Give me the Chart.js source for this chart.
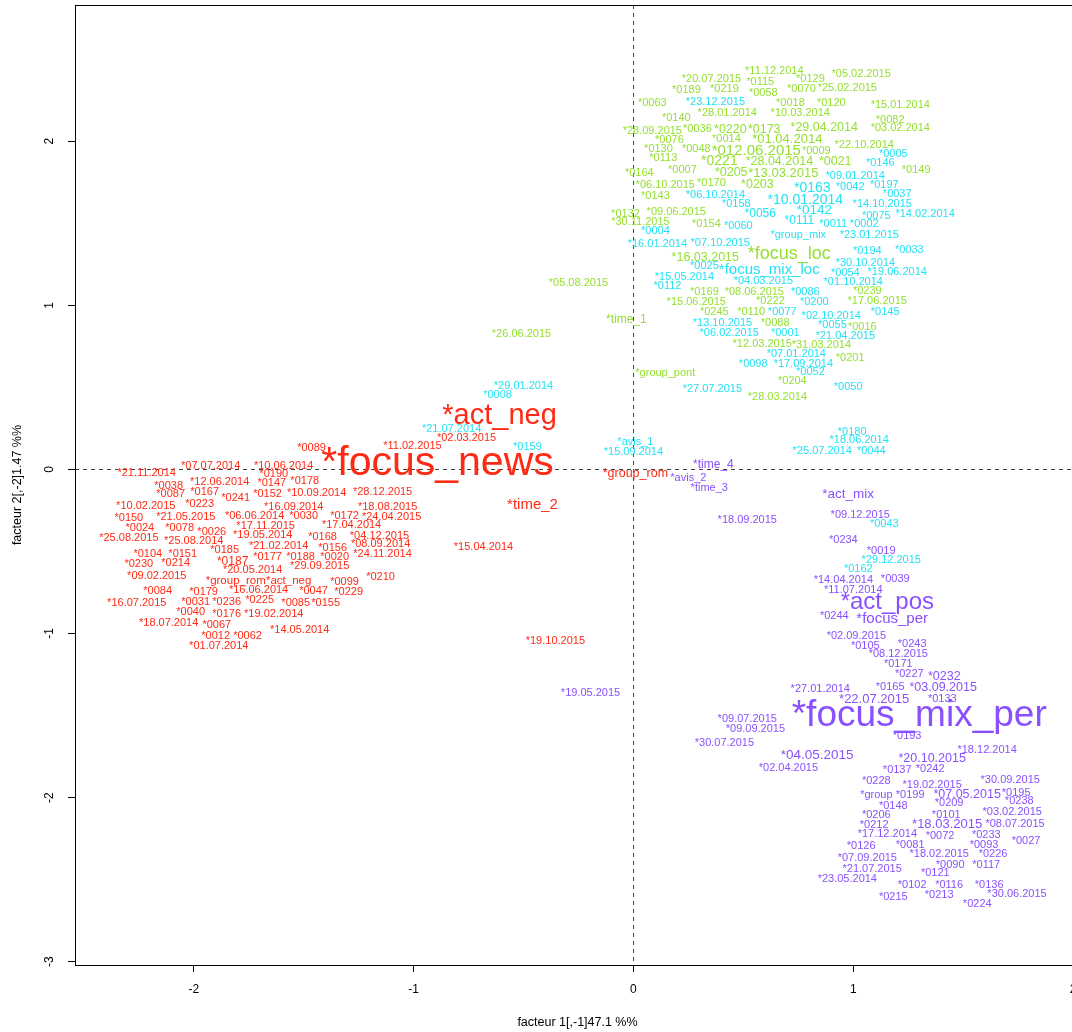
<!DOCTYPE html>
<html>
<head>
<meta charset="utf-8">
<script src="https://cdn.jsdelivr.net/npm/chart.js@4.4.1/dist/chart.umd.min.js"></script>
<style>
  html, body { margin: 0; padding: 0; background: #fff; }
  #wrap { width: 1072px; height: 1032px; position: relative; }
</style>
</head>
<body>
<div id="wrap"><canvas id="chart"></canvas></div>
<script>
// ---- data (factor map coordinates) ----
var locLabels = ['*11.12.2014','*20.07.2015','*0115','*0189','*0219','*0058','*0063','*0140','*28.01.2014','*10.03.2014',
  '*28.09.2015','*0036','*0220','*0173','*29.04.2014','*0076','*0014','*01.04.2014','*0130','*0048',
  '*012.06.2015','*0009','*22.10.2014','*0113','*0221','*28.04.2014','*0021','*0149','*0164','*0007',
  '*0205','*13.03.2015','*06.10.2015','*0170','*0203','*0143','*0132','*09.06.2015','*30.11.2015','*0154',
  '*focus_loc','*16.03.2015','*05.08.2015','*0169','*08.06.2015','*0239','*15.06.2015','*0222','*17.06.2015','*0245',
  '*0110','*time_1','*0088','*0016','*12.03.2015','*31.03.2014','*0201','*group_pont','*0204','*28.03.2014',
  '*26.06.2015','*0082','*03.02.2014','*15.01.2014','*0120','*0018','*0070','*25.02.2015','*0129','*05.02.2015'];
var locX = [0.641,0.355,0.577,0.241,0.414,0.591,0.086,0.195,0.427,0.759,
  0.086,0.291,0.441,0.595,0.868,0.164,0.423,0.700,0.114,0.286,
  0.559,0.832,1.050,0.136,0.391,0.664,0.918,1.286,0.027,0.223,
  0.445,0.682,0.145,0.355,0.564,0.100,-0.036,0.195,0.032,0.332,
  0.709,0.327,-0.250,0.323,0.550,1.064,0.286,0.623,1.109,0.368,
  0.536,-0.032,0.645,1.041,0.586,0.855,0.986,0.145,0.723,0.655,
  -0.509,1.168,1.214,1.214,0.900,0.714,0.764,0.973,0.805,1.036];
var locY = [2.433,2.384,2.366,2.317,2.323,2.299,2.238,2.146,2.177,2.177,
  2.067,2.079,2.079,2.079,2.091,2.012,2.018,2.018,1.957,1.957,
  1.951,1.945,1.982,1.902,1.884,1.884,1.884,1.829,1.811,1.829,
  1.817,1.811,1.738,1.750,1.744,1.671,1.561,1.573,1.512,1.500,
  1.323,1.299,1.140,1.085,1.085,1.091,1.024,1.030,1.030,0.963,
  0.963,0.921,0.896,0.872,0.768,0.762,0.683,0.591,0.543,0.445,
  0.829,2.134,2.085,2.226,2.238,2.238,2.323,2.329,2.384,2.415];

var mixLocLabels = ['*23.12.2015','*0005','*0146','*09.01.2014','*0163','*0042','*0197','*06.10.2014','*10.01.2014','*0037',
  '*0158','*14.10.2015','*0056','*0142','*0075','*14.02.2014','*0060','*0111','*0011','*0002',
  '*0004','*group_mix','*23.01.2015','*16.01.2014','*07.10.2015','*0194','*0033','*0025','*focus_mix_loc','*30.10.2014',
  '*0054','*19.06.2014','*15.05.2014','*04.03.2015','*0112','*01.10.2014','*0086','*0200','*0077','*02.10.2014',
  '*0145','*13.10.2015','*0055','*06.02.2015','*0001','*21.04.2015','*07.01.2014','*0098','*17.09.2014','*0052',
  '*27.07.2015','*0050','*29.01.2014','*0008','*21.07.2014','*0159','*avis_1','*15.09.2014','*0043','*29.12.2015',
  '*0162','*0180','*18.06.2014','*25.07.2014','*0044'];
var mixLocX = [0.373,1.182,1.123,1.009,0.814,0.986,1.141,0.373,0.782,1.200,
  0.468,1.132,0.577,0.823,1.105,1.327,0.477,0.755,0.909,1.050,
  0.100,0.750,1.073,0.109,0.395,1.064,1.255,0.323,0.618,1.055,
  0.964,1.200,0.232,0.591,0.155,1.000,0.782,0.823,0.677,0.900,
  1.145,0.405,0.905,0.436,0.691,0.964,0.741,0.545,0.773,0.805,
  0.359,0.977,-0.500,-0.618,-0.827,-0.482,0.009,0.000,1.141,1.173,
  1.023,0.995,1.027,0.859,1.082];
var mixLocY = [2.244,1.927,1.872,1.793,1.720,1.726,1.738,1.677,1.646,1.683,
  1.622,1.622,1.567,1.585,1.549,1.561,1.488,1.524,1.500,1.500,
  1.457,1.433,1.433,1.378,1.384,1.335,1.341,1.244,1.226,1.262,
  1.201,1.207,1.177,1.152,1.122,1.146,1.085,1.024,0.963,0.939,
  0.963,0.896,0.884,0.835,0.835,0.817,0.707,0.646,0.646,0.598,
  0.494,0.506,0.512,0.457,0.250,0.140,0.171,0.110,-0.329,-0.549,
  -0.604,0.232,0.183,0.116,0.116];

var newsLabels = ['*act_neg','*02.03.2015','*11.02.2015','*0089','*focus_news','*group_rom','*time_2','*15.04.2014','*19.10.2015','*21.11.2014',
  '*07.07.2014','*10.06.2014','*0190','*12.06.2014','*0147','*0178','*0038','*0087','*0167','*0241',
  '*0152','*10.09.2014','*28.12.2015','*10.02.2015','*0223','*16.09.2014','*18.08.2015','*0150','*21.05.2015','*06.06.2014',
  '*0030','*0172','*24.04.2015','*0024','*0078','*0026','*17.11.2015','*17.04.2014','*25.08.2015','*25.08.2014',
  '*19.05.2014','*0168','*04.12.2015','*0104','*0151','*0185','*21.02.2014','*0156','*08.09.2014','*0187',
  '*0177','*0188','*0020','*24.11.2014','*0230','*0214','*20.05.2014','*29.09.2015','*0210','*09.02.2015',
  '*group_rom','*act_neg','*0099','*0084','*0179','*16.06.2014','*0047','*0229','*16.07.2015','*0031',
  '*0236','*0225','*0085','*0155','*0040','*0176','*19.02.2014','*18.07.2014','*0067','*14.05.2014',
  '*0012','*0062','*01.07.2014'];
var newsX = [-0.609,-0.759,-1.005,-1.464,-0.891,0.009,-0.459,-0.682,-0.355,-2.214,
  -1.923,-1.591,-1.636,-1.882,-1.645,-1.495,-2.114,-2.105,-1.950,-1.809,
  -1.664,-1.441,-1.141,-2.218,-1.973,-1.545,-1.118,-2.295,-2.036,-1.723,
  -1.500,-1.314,-1.100,-2.245,-2.064,-1.918,-1.673,-1.282,-2.295,-2.000,
  -1.686,-1.414,-1.155,-2.209,-2.050,-1.859,-1.614,-1.368,-1.150,-1.823,
  -1.664,-1.514,-1.359,-1.141,-2.250,-2.082,-1.732,-1.427,-1.150,-2.168,
  -1.809,-1.568,-1.314,-2.164,-1.955,-1.705,-1.455,-1.295,-2.259,-1.991,
  -1.850,-1.700,-1.536,-1.400,-2.014,-1.850,-1.636,-2.114,-1.895,-1.518,
  -1.900,-1.755,-1.886];
var newsY = [0.341,0.195,0.146,0.134,0.055,-0.018,-0.207,-0.470,-1.037,-0.018,
  0.024,0.024,-0.024,-0.073,-0.079,-0.067,-0.098,-0.146,-0.134,-0.171,
  -0.146,-0.140,-0.134,-0.220,-0.207,-0.226,-0.226,-0.293,-0.287,-0.280,
  -0.280,-0.280,-0.287,-0.354,-0.354,-0.378,-0.341,-0.335,-0.415,-0.433,
  -0.396,-0.409,-0.402,-0.512,-0.512,-0.488,-0.463,-0.476,-0.451,-0.555,
  -0.530,-0.530,-0.530,-0.512,-0.573,-0.567,-0.610,-0.585,-0.652,-0.646,
  -0.671,-0.671,-0.683,-0.738,-0.744,-0.726,-0.738,-0.744,-0.811,-0.805,
  -0.805,-0.787,-0.811,-0.811,-0.866,-0.878,-0.878,-0.933,-0.945,-0.970,
  -1.012,-1.012,-1.073];

var perLabels = ['*time_4','*avis_2','*time_3','*18.09.2015','*19.05.2015','*act_mix','*09.12.2015','*0234','*0019','*14.04.2014',
  '*0039','*11.07.2014','*act_pos','*0244','*focus_per','*02.09.2015','*0105','*0243','*08.12.2015','*0171',
  '*0227','*0232','*27.01.2014','*0165','*03.09.2015','*22.07.2015','*0133','*focus_mix_per','*09.07.2015','*09.09.2015',
  '*0193','*30.07.2015','*18.12.2014','*04.05.2015','*20.10.2015','*02.04.2015','*0137','*0242','*0228','*19.02.2015',
  '*30.09.2015','*group','*0199','*07.05.2015','*0195','*0238','*0209','*0148','*0206','*0101',
  '*03.02.2015','*0212','*18.03.2015','*08.07.2015','*17.12.2014','*0072','*0233','*0027','*0126','*0081',
  '*0093','*18.02.2015','*0226','*07.09.2015','*0090','*0117','*21.07.2015','*0121','*23.05.2014','*0102',
  '*0116','*0136','*30.06.2015','*0215','*0213','*0224'];
var perX = [0.364,0.250,0.345,0.518,-0.195,0.977,1.032,0.955,1.127,0.955,
  1.191,1.000,1.155,0.914,1.177,1.014,1.055,1.268,1.205,1.205,
  1.255,1.414,0.850,1.168,1.409,1.095,1.405,1.300,0.518,0.555,
  1.245,0.414,1.609,0.836,1.359,0.705,1.200,1.350,1.105,1.359,
  1.714,1.105,1.259,1.518,1.741,1.755,1.436,1.182,1.105,1.423,
  1.723,1.095,1.427,1.736,1.155,1.395,1.605,1.786,1.036,1.259,
  1.595,1.391,1.636,1.064,1.441,1.605,1.086,1.373,0.973,1.268,
  1.436,1.618,1.745,1.182,1.391,1.564];
var perY = [0.037,-0.049,-0.110,-0.305,-1.354,-0.146,-0.274,-0.427,-0.494,-0.671,
  -0.659,-0.732,-0.799,-0.890,-0.902,-1.012,-1.073,-1.061,-1.122,-1.177,
  -1.238,-1.256,-1.335,-1.323,-1.323,-1.396,-1.396,-1.485,-1.518,-1.579,
  -1.616,-1.659,-1.701,-1.738,-1.756,-1.811,-1.823,-1.817,-1.890,-1.915,
  -1.884,-1.976,-1.976,-1.976,-1.963,-2.012,-2.030,-2.043,-2.098,-2.098,
  -2.079,-2.159,-2.159,-2.152,-2.213,-2.226,-2.220,-2.256,-2.287,-2.280,
  -2.280,-2.335,-2.335,-2.360,-2.402,-2.402,-2.427,-2.451,-2.488,-2.524,
  -2.524,-2.524,-2.579,-2.598,-2.585,-2.640];

var xTicks = [-2, -1, 0, 1, 2];
var yTicks = [-3, -2, -1, 0, 1, 2];
var xTitle = 'facteur 1[,-1]47.1 %%';
var yTitle = 'facteur 2[,-2]1.47 %%';

// ---- styles ----
var FONT = '"Liberation Sans", Arial, Helvetica, sans-serif';
var baseSize = 11;
// font size per label (one entry per occurrence)
var fontSizes = {
  '*focus_news': [41], '*focus_mix_per': [37], '*act_neg': [29, 11.5], '*act_pos': [24],
  '*focus_loc': [18], '*focus_mix_loc': [15], '*focus_per': [15], '*act_mix': [13.5],
  '*time_2': [15], '*time_1': [12], '*time_4': [12], '*group_rom': [12.5, 11.5],
  '*012.06.2015': [15], '*0221': [14], '*0163': [14], '*10.01.2014': [14], '*0142': [13.5],
  '*04.05.2015': [13.5], '*16.03.2015': [12.5], '*20.10.2015': [12.5], '*22.07.2015': [13],
  '*03.09.2015': [12.5], '*07.05.2015': [12.5], '*18.03.2015': [13], '*01.04.2014': [13],
  '*28.04.2014': [12.5], '*13.03.2015': [13], '*29.04.2014': [12.5], '*0205': [12.5],
  '*0220': [12.5], '*0173': [12.5], '*0021': [12.5], '*0203': [12.5], '*0232': [12.5],
  '*0187': [12], '*0111': [12], '*0056': [12]
};

function pts(xs, ys) {
  return xs.map(function(v, i) { return { x: v, y: ys[i] }; });
}

var labelPlugin = {
  id: 'pointLabels',
  beforeDatasetsDraw: function(chart) {
    var ctx = chart.ctx, a = chart.chartArea;
    var sx = chart.scales.x, sy = chart.scales.y;
    ctx.save();
    ctx.strokeStyle = '#444';
    ctx.lineWidth = 1;
    ctx.setLineDash([4, 4]);
    var px = Math.round(sx.getPixelForValue(0)) + 0.5;
    var py = Math.round(sy.getPixelForValue(0)) + 0.5;
    ctx.beginPath();
    ctx.moveTo(px, a.top); ctx.lineTo(px, a.bottom);
    ctx.moveTo(a.left, py); ctx.lineTo(a.right, py);
    ctx.stroke();
    ctx.restore();
  },
  afterDatasetsDraw: function(chart) {
    var ctx = chart.ctx;
    var seen = {};
    ctx.save();
    ctx.textAlign = 'center';
    ctx.textBaseline = 'alphabetic';
    chart.data.datasets.forEach(function(ds, i) {
      var meta = chart.getDatasetMeta(i);
      meta.data.forEach(function(el, j) {
        var txt = ds.pointText[j];
        var n = seen[txt] || 0;
        seen[txt] = n + 1;
        var size = (fontSizes[txt] && fontSizes[txt][n]) || baseSize;
        ctx.font = size + 'px ' + FONT;
        ctx.fillStyle = ds.textColor;
        ctx.fillText(txt, el.x, el.y + size * 0.36);
      });
    });
    ctx.restore();
  },
  afterDraw: function(chart) {
    var ctx = chart.ctx, a = chart.chartArea;
    var sx = chart.scales.x, sy = chart.scales.y;
    ctx.save();
    // frame
    ctx.strokeStyle = '#000';
    ctx.lineWidth = 1;
    ctx.strokeRect(a.left + 0.5, a.top + 0.5, a.right - a.left, a.bottom - a.top);
    ctx.fillStyle = '#000';
    ctx.font = '12px ' + FONT;
    ctx.textAlign = 'center';
    ctx.textBaseline = 'middle';
    xTicks.forEach(function(v) {
      ctx.fillText(String(v), sx.getPixelForValue(v), a.bottom + 25);
    });
    yTicks.forEach(function(v) {
      ctx.save();
      ctx.translate(a.left - 25, sy.getPixelForValue(v));
      ctx.rotate(-Math.PI / 2);
      ctx.fillText(String(v), 0, 0);
      ctx.restore();
    });
    ctx.font = '12.5px ' + FONT;
    ctx.fillText(xTitle, (a.left + a.right) / 2 + 4, a.bottom + 58);
    ctx.save();
    ctx.translate(18, (a.top + a.bottom) / 2);
    ctx.rotate(-Math.PI / 2);
    ctx.fillText(yTitle, 0, 0);
    ctx.restore();
    ctx.restore();
  }
};

function ds(name, xs, ys, labels, color) {
  return {
    label: name,
    data: pts(xs, ys),
    pointText: labels,
    textColor: color,
    pointRadius: 0,
    pointHoverRadius: 0,
    showLine: false
  };
}

var ctx = document.getElementById('chart').getContext('2d');
var myChart = new Chart(ctx, {
  type: 'scatter',
  data: {
    datasets: [
      ds('loc', locX, locY, locLabels, '#93e02e'),
      ds('mix_loc', mixLocX, mixLocY, mixLocLabels, '#22e2f4'),
      ds('news', newsX, newsY, newsLabels, '#ff2a14'),
      ds('per', perX, perY, perLabels, '#8a50ff')
    ]
  },
  options: {
    responsive: true,
    maintainAspectRatio: false,
    animation: false,
    events: [],
    layout: { padding: { top: 5, right: 0, left: 0, bottom: 0 }, autoPadding: false },
    plugins: { legend: { display: false }, tooltip: { enabled: false } },
    scales: {
      x: {
        type: 'linear',
        min: -2.54,
        max: 1.995,
        afterBuildTicks: function(s) { s.ticks = xTicks.map(function(v) { return { value: v }; }); },
        afterFit: function(s) { s.height = 67; },
        ticks: { display: false },
        border: { display: false },
        grid: { display: true, drawOnChartArea: false, drawTicks: true, tickLength: 7, color: '#000' }
      },
      y: {
        type: 'linear',
        min: -3.02,
        max: 2.83,
        afterBuildTicks: function(s) { s.ticks = yTicks.map(function(v) { return { value: v }; }); },
        afterFit: function(s) { s.width = 75; },
        ticks: { display: false },
        border: { display: false },
        grid: { display: true, drawOnChartArea: false, drawTicks: true, tickLength: 7, color: '#000' }
      }
    }
  },
  plugins: [labelPlugin]
});
</script>
</body>
</html>
